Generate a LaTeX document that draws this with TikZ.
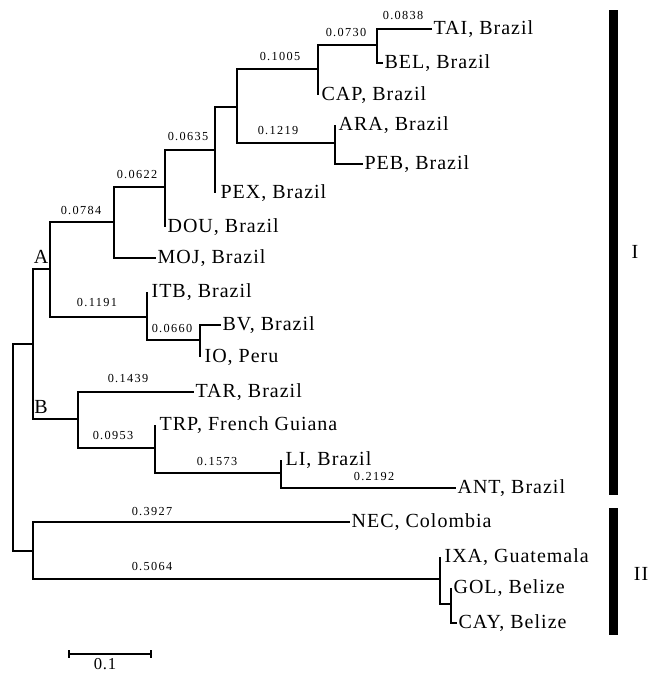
\documentclass[tikz,border=0pt]{standalone}
\usepackage{fontspec}
\setmainfont{Liberation Serif}
\newfontfamily\taxfam[LetterSpace=5]{Liberation Serif}
\newfontfamily\lenfam[LetterSpace=11]{Liberation Serif}
\newcommand{\taxfont}{\taxfam\fontsize{15}{17}\selectfont}
\newcommand{\lenfont}{\lenfam\fontsize{9.2}{10}\selectfont}

\begin{document}
\begin{tikzpicture}[
    x=0.75pt, y=-0.75pt,
    branch/.style={line width=1.1pt},
    taxon/.style={anchor=west,inner xsep=1pt,inner ysep=0pt,text height=10pt,text depth=2pt,font=\taxfont},
    blen/.style={inner sep=0pt,font=\lenfont},
    grouplbl/.style={inner sep=0pt,font=\taxfont},
    cladebar/.style={fill=black}
  ]
  \useasboundingbox (0,0) rectangle (656,673);
  % inner nodes of the tree
  \coordinate (root) at (13,447);
  \coordinate (nab)  at (33,344);
  \coordinate (na)   at (50,269);
  \coordinate (nmoj) at (114,222);
  \coordinate (ndou) at (165,187);
  \coordinate (npex) at (215,150);
  \coordinate (ntop) at (237,107);
  \coordinate (ncap) at (318,69);
  \coordinate (ntai) at (377,45);
  \coordinate (nara) at (335,143);
  \coordinate (nitb) at (147,317);
  \coordinate (nbv)  at (200,340);
  \coordinate (nb)   at (78,419);
  \coordinate (ntrp) at (155,448);
  \coordinate (nli)  at (281,473);
  \coordinate (nii)  at (33,551);
  \coordinate (nixa) at (440,579);
  \coordinate (ngol) at (451,604);

  % taxa
  \node[taxon] (tai) at (432,29)  {TAI, Brazil};
  \node[taxon] (bel) at (383,63)  {BEL, Brazil};
  \node[taxon] (cap) at (320,95)  {CAP, Brazil};
  \node[taxon] (ara) at (337,125) {ARA, Brazil};
  \node[taxon] (peb) at (363,164) {PEB, Brazil};
  \node[taxon] (pex) at (219,193) {PEX, Brazil};
  \node[taxon] (dou) at (166,227) {DOU, Brazil};
  \node[taxon] (moj) at (156,258) {MOJ, Brazil};
  \node[taxon] (itb) at (150,292) {ITB, Brazil};
  \node[taxon] (bv)  at (221,325) {BV, Brazil};
  \node[taxon] (io)  at (203,357) {IO, Peru};
  \node[taxon] (tar) at (194,392) {TAR, Brazil};
  \node[taxon] (trp) at (158,425) {TRP, French Guiana};
  \node[taxon] (li)  at (284,460) {LI, Brazil};
  \node[taxon] (ant) at (456,488) {ANT, Brazil};
  \node[taxon] (nec) at (350,522) {NEC, Colombia};
  \node[taxon] (ixa) at (443,557) {IXA, Guatemala};
  \node[taxon] (gol) at (452,588) {GOL, Belize};
  \node[taxon] (cay) at (457,623) {CAY, Belize};

  % branches
  \draw[branch] (root) |- (nab);
  \draw[branch] (root) |- (nii);
  \draw[branch] (nab) |- (na);
  \draw[branch] (nab) |- (nb);
  \draw[branch] (na) |- (nmoj);
  \draw[branch] (na) |- (nitb);
  \draw[branch] (nmoj) |- (ndou);
  \draw[branch] (nmoj) |- (moj.west);
  \draw[branch] (ndou) |- (npex);
  \draw[branch] (ndou) -- (ndou |- dou.west);
  \draw[branch] (npex) |- (ntop);
  \draw[branch] (npex) -- (npex |- pex.west);
  \draw[branch] (ntop) |- (ncap);
  \draw[branch] (ntop) |- (nara);
  \draw[branch] (ncap) |- (ntai);
  \draw[branch] (ncap) -- (ncap |- cap.west);
  \draw[branch] (ntai) |- (tai.west);
  \draw[branch] (ntai) |- (bel.west);
  \draw[branch] (nara) -- (nara |- ara.west);
  \draw[branch] (nara) |- (peb.west);
  \draw[branch] (nitb) -- (nitb |- itb.west);
  \draw[branch] (nitb) |- (nbv);
  \draw[branch] (nbv) |- (bv.west);
  \draw[branch] (nbv) -- (nbv |- io.west);
  \draw[branch] (nb) |- (tar.west);
  \draw[branch] (nb) |- (ntrp);
  \draw[branch] (ntrp) -- (ntrp |- trp.west);
  \draw[branch] (ntrp) |- (nli);
  \draw[branch] (nli) -- (nli |- li.west);
  \draw[branch] (nli) |- (ant.west);
  \draw[branch] (nii) |- (nec.west);
  \draw[branch] (nii) |- (nixa);
  \draw[branch] (nixa) -- (nixa |- ixa.west);
  \draw[branch] (nixa) |- (ngol);
  \draw[branch] (ngol) -- (ngol |- gol.west);
  \draw[branch] (ngol) |- (cay.west);

  % branch lengths
  \node[blen] (l0838) at (403,16)  {0.0838};
  \node[blen] (l0730) at (346,33)  {0.0730};
  \node[blen] (l1005) at (280,57)  {0.1005};
  \node[blen] (l1219) at (278,131) {0.1219};
  \node[blen] (l0635) at (188,137) {0.0635};
  \node[blen] (l0622) at (137,175) {0.0622};
  \node[blen] (l0784) at (81,211)  {0.0784};
  \node[blen] (l1191) at (97,303)  {0.1191};
  \node[blen] (l0660) at (172,329) {0.0660};
  \node[blen] (l1439) at (128,379) {0.1439};
  \node[blen] (l0953) at (113,436) {0.0953};
  \node[blen] (l1573) at (217,462) {0.1573};
  \node[blen] (l2192) at (374,477) {0.2192};
  \node[blen] (l3927) at (152,512) {0.3927};
  \node[blen] (l5064) at (152,567) {0.5064};

  % subclades and groups
  \node[grouplbl] (lbla) at (41,257) {A};
  \node[grouplbl] (lblb) at (41,407) {B};
  \fill[cladebar] (609,10) rectangle (618,495);
  \fill[cladebar] (609,508) rectangle (618,635);
  \node[grouplbl] (grpi)  at (635,252) {I};
  \node[grouplbl] (grpii) at (641,574) {II};

  % scale
  \coordinate (sbl) at (69,654);
  \coordinate (sbr) at (151,654);
  \draw[branch] (sbl) -- (sbr);
  \draw[branch] (sbl) ++(0,-4) -- ++(0,8);
  \draw[branch] (sbr) ++(0,-4) -- ++(0,8);
  \node[inner sep=0pt,font=\taxfam\fontsize{12.5}{14}\selectfont] (sblbl) at (105,664) {0.1};
\end{tikzpicture}
\end{document}
